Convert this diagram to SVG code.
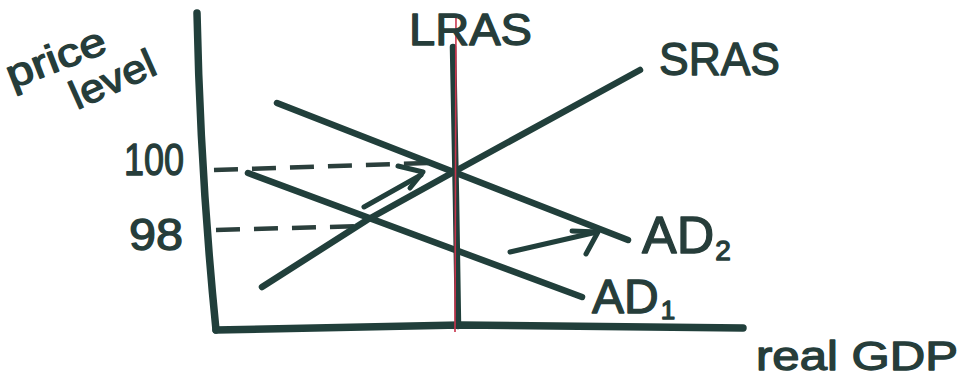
<svg xmlns="http://www.w3.org/2000/svg" width="969" height="379" viewBox="0 0 969 379">
<style>
.ln{fill:none;stroke:#213f3b;stroke-width:6.5;stroke-linecap:round;stroke-linejoin:round}
.ax{fill:none;stroke:#213f3b;stroke-width:7.5;stroke-linecap:round;stroke-linejoin:round}
.ds{fill:none;stroke:#2b3f3c;stroke-width:4.5;stroke-dasharray:24 14}
.ar{fill:none;stroke:#213f3b;stroke-width:5;stroke-linecap:round;stroke-linejoin:round}
.red{fill:none;stroke:#c8344c;stroke-width:1.6}
text{font-family:"Liberation Sans",Arial,sans-serif;fill:#263d3a;stroke:#263d3a;stroke-width:1.3;stroke-linejoin:round}
</style>
<rect width="969" height="379" fill="#ffffff"/>
<g id="axes">
<path class="ax" d="M197,13 C199,110 204,210 216,330"/>
<path class="ax" d="M216,330 L460,325 L743,328"/>
</g>
<g id="connectors">
<path class="ds" d="M214,170 L430,163"/>
<path class="ds" d="M216,230 L365,226"/>
<g id="arrow1"><path class="ar" d="M364,207 L421,175"/><path class="ar" d="M398,166 L423,172 L410,188"/></g>
<g id="arrow2"><path class="ar" d="M510,252 L597,232"/><path class="ar" d="M572,231 L598,232 L586,254"/></g>
</g>
<g id="AD1"><path class="ln" d="M248,173 L582,297"/><text x="592" y="313" font-size="48">AD<tspan font-size="26" dx="2" dy="6">1</tspan></text></g>
<g id="AD2"><path class="ln" d="M277,103 L628,240"/><text x="642" y="253" font-size="52">AD<tspan font-size="28" dx="1" dy="7">2</tspan></text></g>
<g id="SRAS"><path class="ln" d="M262,287 L367,220 L450,174 L640,70"/><text x="659" y="75" font-size="46" textLength="121" lengthAdjust="spacingAndGlyphs">SRAS</text></g>
<g id="LRAS"><path class="ln" d="M453,47 L456,200 L458,326"/><path class="red" d="M456,14 L455,332"/><text x="409" y="45" font-size="44" textLength="123" lengthAdjust="spacingAndGlyphs">LRAS</text></g>
<g id="labels">
<text x="124" y="175" font-size="44" textLength="60" lengthAdjust="spacingAndGlyphs">100</text>
<text x="129" y="250" font-size="44" textLength="54" lengthAdjust="spacingAndGlyphs">98</text>
<text transform="translate(12,89) rotate(-21)" font-size="40" textLength="104" lengthAdjust="spacingAndGlyphs">price</text>
<text transform="translate(77,110) rotate(-24)" font-size="40" textLength="90" lengthAdjust="spacingAndGlyphs">level</text>
<text x="756" y="370" font-size="41" textLength="202" lengthAdjust="spacingAndGlyphs">real GDP</text>
</g>
</svg>
